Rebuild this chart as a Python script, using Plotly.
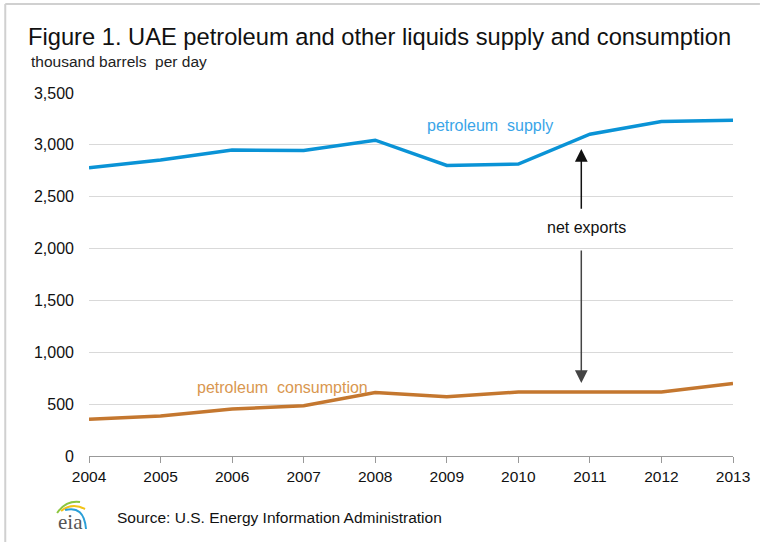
import plotly.graph_objects as go

# Data (thousand barrels per day)
years = [2004, 2005, 2006, 2007, 2008, 2009, 2010, 2011, 2012, 2013]
supply = [2778, 2855, 2950, 2945, 3045, 2802, 2815, 3103, 3225, 3237]
consumption = [354, 385, 452, 484, 612, 571, 617, 617, 617, 700]

W, H = 762, 542
L, R, T, B = 89, 27, 93, 86
PW, PH = W - L - R, H - T - B


def px(x):
    return (x - L) / PW


def py(y):
    return (H - B - y) / PH


FONT = "Liberation Sans, Arial, sans-serif"

fig = go.Figure()

fig.add_trace(go.Scatter(
    x=years, y=supply, mode="lines", name="petroleum supply",
    line=dict(color="#0a93d6", width=3.5), showlegend=False
))
fig.add_trace(go.Scatter(
    x=years, y=consumption, mode="lines", name="petroleum consumption",
    line=dict(color="#c4772f", width=3.5), showlegend=False
))

annotations = [
    dict(text="Figure 1. UAE petroleum and other liquids supply and consumption",
         xref="paper", yref="paper", x=px(26), y=py(37), xanchor="left", yanchor="middle",
         showarrow=False, font=dict(size=23.7, color="#111", family=FONT)),
    dict(text="thousand barrels  per day",
         xref="paper", yref="paper", x=px(29), y=py(61), xanchor="left", yanchor="middle",
         showarrow=False, font=dict(size=15.5, color="#222", family=FONT)),
    dict(text="Source: U.S. Energy Information Administration",
         xref="paper", yref="paper", x=px(115), y=py(517), xanchor="left", yanchor="middle",
         showarrow=False, font=dict(size=15.5, color="#111", family=FONT)),
    dict(text="eia",
         xref="paper", yref="paper", x=px(70), y=py(522), xanchor="center", yanchor="middle",
         showarrow=False, font=dict(size=21, color="#555", family="Liberation Serif, serif")),
    dict(text="petroleum  supply", x=2009.6, y=3190, xanchor="center", yanchor="middle",
         showarrow=False, font=dict(size=16, color="#3aa5e8", family=FONT)),
    dict(text="petroleum  consumption", x=2006.7, y=660, xanchor="center", yanchor="middle",
         showarrow=False, font=dict(size=16, color="#d9974f", family=FONT)),
    dict(text="net exports", x=2010.95, y=2200, xanchor="center", yanchor="middle",
         showarrow=False, font=dict(size=16, color="#111", family=FONT)),
    # arrows
    dict(x=2010.88, y=2960, ax=2010.88, ay=2370, xref="x", yref="y", axref="x", ayref="y",
         text="", showarrow=True, arrowhead=2, arrowsize=1.7, arrowwidth=1.5, arrowcolor="#111"),
    dict(x=2010.88, y=705, ax=2010.88, ay=1995, xref="x", yref="y", axref="x", ayref="y",
         text="", showarrow=True, arrowhead=2, arrowsize=1.7, arrowwidth=1.5, arrowcolor="#444"),
]

shapes = [
    # panel border (top and left)
    dict(type="line", xref="paper", yref="paper", x0=px(5), x1=px(W), y0=py(4), y1=py(4),
         line=dict(color="#d0d0d0", width=2)),
    dict(type="line", xref="paper", yref="paper", x0=px(5), x1=px(5), y0=py(4), y1=py(H),
         line=dict(color="#d0d0d0", width=2)),
    # eia logo arcs
    dict(type="path", xref="paper", yref="paper",
         path=f"M {px(57)},{py(513)} Q {px(66)},{py(500)} {px(80)},{py(502)}",
         line=dict(color="#8cc63f", width=2)),
    dict(type="path", xref="paper", yref="paper",
         path=f"M {px(61)},{py(511)} Q {px(72)},{py(502)} {px(85)},{py(509)}",
         line=dict(color="#f2c318", width=2)),
    dict(type="path", xref="paper", yref="paper",
         path=f"M {px(65)},{py(510)} Q {px(84)},{py(505)} {px(86)},{py(529)}",
         line=dict(color="#2a9fd8", width=2)),
]

fig.update_layout(
    width=W, height=H,
    margin=dict(l=L, r=R, t=T, b=B),
    plot_bgcolor="white", paper_bgcolor="white",
    font=dict(family=FONT, size=16, color="#222"),
    annotations=annotations,
    shapes=shapes,
    showlegend=False,
)

fig.update_xaxes(
    range=[2004, 2013], tickmode="array", tickvals=years, ticktext=[str(y) for y in years],
    showgrid=False, showline=True, linecolor="#999", linewidth=1.2,
    ticks="outside", ticklen=6, tickcolor="#999", tickfont=dict(size=15.5, color="#111"),
    zeroline=False,
)
fig.update_yaxes(
    range=[0, 3500], tickvals=[0, 500, 1000, 1500, 2000, 2500, 3000, 3500],
    tickformat=",", showgrid=True, gridcolor="#d9d9d9", gridwidth=1,
    zeroline=False, showline=False, ticks="", ticklabelstandoff=14,
    tickfont=dict(size=16, color="#111"),
)

# page body margin would shift the figure by 8px
fig.write_html("out.html", config={"displayModeBar": False},
               post_script="document.body.style.margin='0';")
